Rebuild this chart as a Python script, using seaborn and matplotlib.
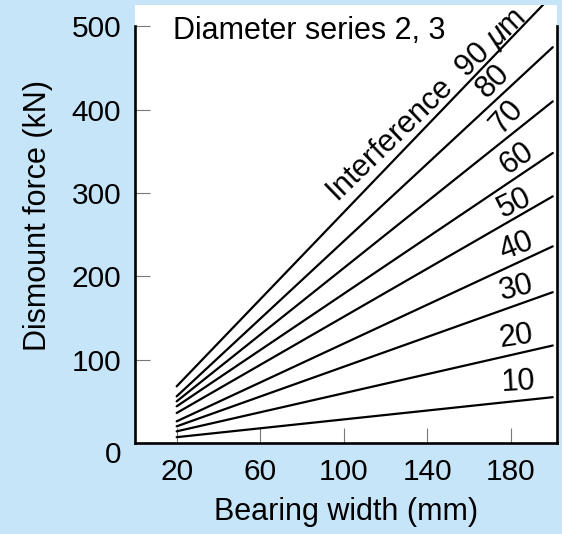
import pandas as pd
import matplotlib.pyplot as plt
import matplotlib.transforms as mtransforms
import seaborn as sns

# Veri: her girişim değeri için 20 mm ve 200 mm genişlikteki kuvvet (kN)
interference = [10, 20, 30, 40, 50, 60, 70, 80, 90]
bearing_width = [20, 200]
force_at_20 = [7, 14, 20, 26, 36, 44, 50, 56, 68]
force_at_200 = [55, 117, 181, 236, 296, 348, 410, 475, 538]
line_labels = ["10", "20", "30", "40", "50", "60", "70", "80", "Interference  90 $\\mu$m"]
x_ticks = [20, 60, 100, 140, 180]
y_ticks = [0, 100, 200, 300, 400, 500]


def main():
    sns.set_theme(style="white")
    plt.rcParams['font.family'] = ['Liberation Sans', 'DejaVu Sans']
    plt.rcParams['mathtext.fontset'] = 'custom'
    plt.rcParams['mathtext.it'] = 'Liberation Sans:italic'
    plt.rcParams['text.color'] = 'black'
    plt.rcParams['axes.labelcolor'] = 'black'

    rows = []
    for i, v in enumerate(interference):
        rows.append({"width": bearing_width[0], "force": force_at_20[i], "interference": v})
        rows.append({"width": bearing_width[1], "force": force_at_200[i], "interference": v})
    df = pd.DataFrame(rows)

    fig = plt.figure(figsize=(5.62, 5.34), dpi=100, facecolor="#C7E5F9")
    ax = fig.add_axes([0.240, 0.1704, 0.751, 0.8202])
    ax.set_facecolor("white")

    sns.lineplot(data=df, x="width", y="force", units="interference",
                 estimator=None, color="black", linewidth=1.6, ax=ax)

    ax.set_xlim(0, 202)
    ax.set_ylim(0, 525.6)
    ax.set_xticks(x_ticks)
    ax.set_yticks(y_ticks)

    # Çerçeve
    ax.spines['top'].set_visible(False)
    for side in ['left', 'right']:
        ax.spines[side].set_bounds(0, 500)
    for side in ['left', 'right', 'bottom']:
        ax.spines[side].set_color("black")
        ax.spines[side].set_linewidth(1.9)

    ax.tick_params(axis='both', direction='in', length=10.5, width=0.8,
                   color="#777777", labelsize=21.5, labelcolor="black")
    ax.tick_params(axis='x', pad=11)
    ax.tick_params(axis='y', pad=10, left=True, right=False)
    ax.tick_params(axis='x', bottom=True, top=False)

    # "0" etiketi referansta biraz aşağıda
    fig.canvas.draw()
    zero_lbl = ax.get_yticklabels()[0]
    zero_lbl.set_transform(zero_lbl.get_transform() +
                           mtransforms.ScaledTranslation(0, -0.09, fig.dpi_scale_trans))

    ax.set_xlabel("Bearing width (mm)", fontsize=22, labelpad=8, color="black")
    ax.set_ylabel("Dismount force (kN)", fontsize=22, labelpad=12, color="black")
    ax.yaxis.set_label_coords(-0.195, 0.52)

    # Çizgi etiketleri
    label_x = [183.5, 182.7, 182.7, 182.7, 181.9, 182.7, 177.9, 171.5, 139.3]
    label_y = [73.6, 127.6, 185.6, 235.6, 287.6, 341.6, 391.6, 433.6, 405.6]
    label_rot = [3, 8, 14, 21, 26, 35, 48, 45, 44]
    for t, x, y, r in zip(line_labels, label_x, label_y, label_rot):
        ax.text(x, y, t, fontsize=22, rotation=r, rotation_mode='anchor',
                ha='center', va='center', color="black")

    ax.text(18.2, 484.8, "Diameter series 2, 3", fontsize=22, ha='left',
            va='baseline', color="black")

    plt.savefig("out.png", dpi=100, facecolor=fig.get_facecolor())


if __name__ == "__main__":
    main()
